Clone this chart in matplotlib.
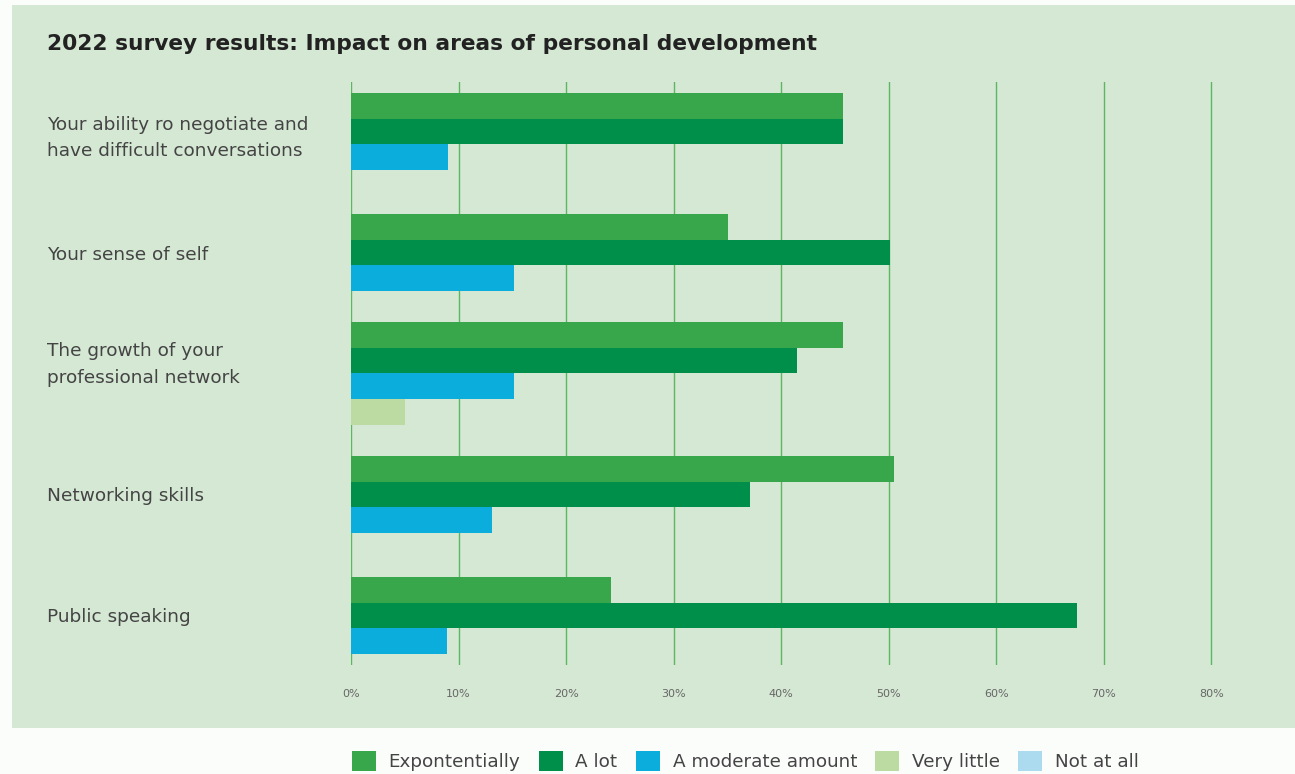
import numpy as np
import matplotlib.pyplot as plt
from matplotlib.patches import Rectangle, Patch
from matplotlib.transforms import ScaledTranslation

categories = [
    "Your ability ro negotiate and\nhave difficult conversations",
    "Your sense of self",
    "The growth of your\nprofessional network",
    "Networking skills",
    "Public speaking",
]
series_names = ["Expontentially", "A lot", "A moderate amount", "Very little", "Not at all"]
expontentially = [45.8, 35.1, 45.8, 50.5, 24.2]
a_lot = [45.8, 50.1, 41.5, 37.1, 67.5]
moderate = [9.0, 15.2, 15.2, 13.1, 8.9]
very_little = [0, 0, 5.0, 0, 0]
not_at_all = [0, 0, 0, 0, 0]
xticks = [0, 10, 20, 30, 40, 50, 60, 70, 80]

colors = ["#38a64a", "#008f4a", "#0aaddb", "#bbdba3", "#acdaef"]
panel_bg = "#d5e8d4"
grid_col = "#5db762"
text_col = "#444444"

fig = plt.figure(figsize=(12.95, 7.74), dpi=100)
fig.patch.set_facecolor("#fbfdfb")
fig.patches.append(Rectangle((12 / 1295, 1 - 728 / 774), 1 - 12 / 1295, (728 - 5) / 774,
                             transform=fig.transFigure, facecolor=panel_bg,
                             edgecolor="none", zorder=-10))

# axes spans 0..81 so the 80% gridline is not clipped
ax = fig.add_axes([351 / 1295, 1 - 665 / 774, (1222 - 351) / 1295, (665 - 82) / 774])
ax.set_facecolor("none")
ax.set_zorder(1)

series = [expontentially, a_lot, moderate, very_little, not_at_all]
bar_h = 0.212
for ci in range(len(categories)):
    present = [si for si in range(len(series)) if series[si][ci] > 0]
    n = len(present)
    for k, si in enumerate(present):
        y = ci + (k - (n - 1) / 2) * bar_h
        ax.barh(y, series[si][ci], height=bar_h, color=colors[si], zorder=3)

ax.set_xlim(0, 81)
ax.set_ylim(len(categories) - 1 + 0.41, -0.41)
ax.set_xticks(xticks)
ax.set_xticklabels([f"{t}%" for t in xticks], fontsize=8, color="#666666")
ax.set_yticks(range(len(categories)))
ax.set_yticklabels(categories, ha="left", fontsize=13.3, color=text_col, linespacing=1.6)
ax.tick_params(axis="y", length=0, pad=219)
ax.tick_params(axis="x", length=0, pad=17)
ax.xaxis.grid(True, color=grid_col, linewidth=1, zorder=1)
ax.set_axisbelow(True)
for s in ax.spines.values():
    s.set_visible(False)

# the growth label sits a little higher than its bar group
lbl = ax.get_yticklabels()[2]
lbl.set_transform(lbl.get_transform() + ScaledTranslation(0, 0.15, fig.dpi_scale_trans))

fig.text(47 / 1295, 1 - 44 / 774, "2022 survey results: Impact on areas of personal development",
         fontsize=15.7, fontweight="bold", color="#222222", va="center", ha="left")

handles = [Patch(facecolor=c, edgecolor="none") for c in colors]
fig.legend(handles, series_names, loc="center left", bbox_to_anchor=(352 / 1295, 1 - 761 / 774),
           ncol=5, frameon=False, fontsize=13.2, handlelength=1.3, handleheight=1.3,
           handletextpad=0.7, columnspacing=1.0, borderpad=0, borderaxespad=0,
           labelcolor=text_col)

fig.savefig("out.png", dpi=100, facecolor=fig.get_facecolor())
